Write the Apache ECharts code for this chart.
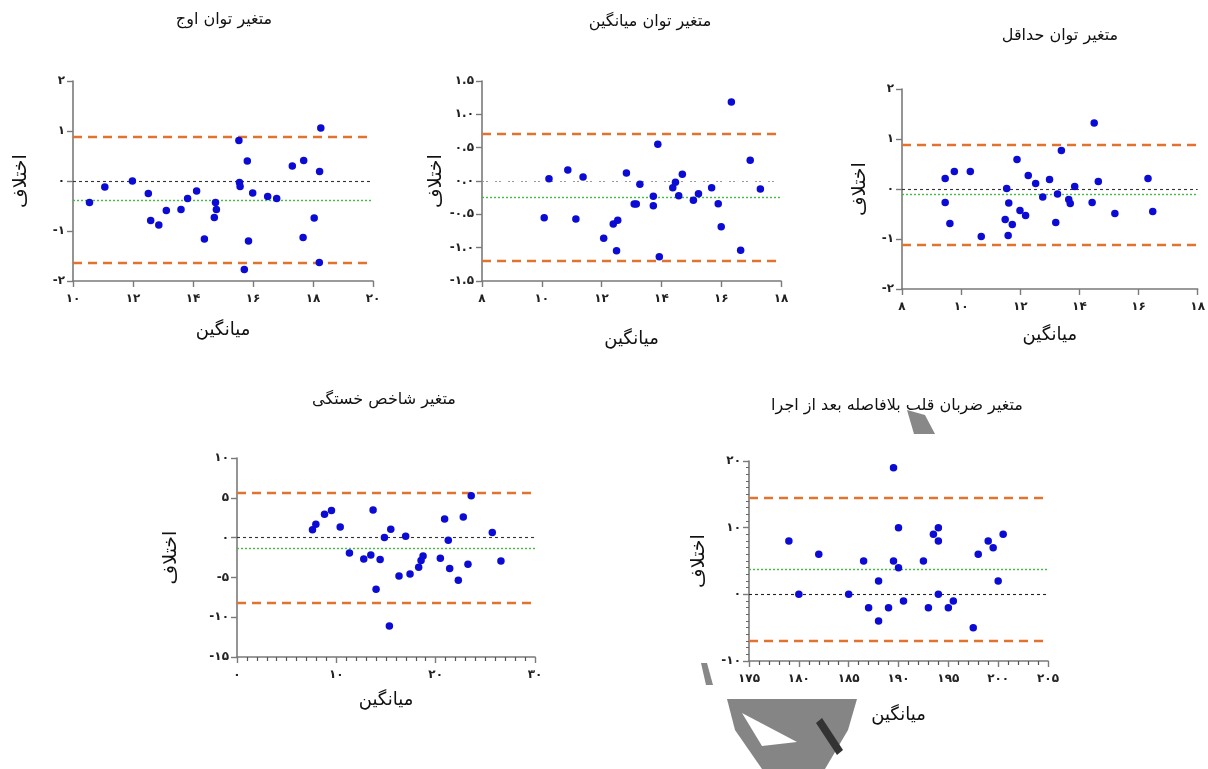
<!DOCTYPE html>
<html>
<head>
<meta charset="utf-8">
<script src="https://cdn.jsdelivr.net/npm/echarts@6/dist/echarts.min.js"></script>
<style>
html,body{margin:0;padding:0;background:#fff;}
#chart{width:1208px;height:769px;}
</style>
</head>
<body>
<div id="chart"></div>
<script>
// ---------- DATA ----------
const titles = ['متغیر توان اوج', 'متغیر توان میانگین', 'متغیر توان حداقل', 'متغیر شاخص خستگی', 'متغیر ضربان قلب بلافاصله بعد از اجرا'];
const xName = 'میانگین';
const yName = 'اختلاف';

// Panel 1: peak power
const peakMean = [10.55, 11.06, 11.98, 12.51, 12.59, 12.86, 13.11, 13.60, 13.82, 14.12, 14.38, 14.71, 14.75, 14.78, 15.53, 15.55, 15.57, 15.71, 15.81, 15.85, 15.99, 16.49, 16.79, 17.31, 17.69, 17.67, 18.04, 18.21, 18.22, 18.26];
const peakDiff = [-0.43, -0.12, 0.00, -0.25, -0.79, -0.88, -0.59, -0.57, -0.35, -0.20, -1.16, -0.73, -0.43, -0.57, 0.81, -0.03, -0.11, -1.77, 0.40, -1.20, -0.24, -0.31, -0.35, 0.30, 0.41, -1.13, -0.74, -1.63, 0.19, 1.06];
const peakLimits = [0.89, -0.38, -1.64]; // upper, bias, lower

// Panel 2: mean power
const avgMean = [10.08, 10.24, 10.87, 11.14, 11.38, 12.07, 12.39, 12.50, 12.54, 12.83, 13.09, 13.16, 13.28, 13.73, 13.73, 13.88, 13.93, 14.38, 14.47, 14.58, 14.70, 15.07, 15.24, 15.68, 15.90, 16.00, 16.34, 16.65, 16.97, 17.31];
const avgDiff = [-0.55, 0.035, 0.165, -0.57, 0.06, -0.86, -0.645, -1.045, -0.59, 0.12, -0.345, -0.345, -0.05, -0.23, -0.37, 0.55, -1.135, -0.10, -0.02, -0.22, 0.10, -0.29, -0.19, -0.10, -0.34, -0.685, 1.185, -1.04, 0.31, -0.12];
const avgLimits = [0.715, -0.24, -1.20];

// Panel 3: minimum power
const minMean = [9.46, 9.46, 9.62, 9.77, 10.31, 10.68, 11.49, 11.54, 11.59, 11.61, 11.73, 11.89, 11.99, 12.18, 12.27, 12.52, 12.76, 12.99, 13.20, 13.26, 13.39, 13.64, 13.69, 13.84, 14.43, 14.50, 14.64, 15.20, 16.32, 16.48];
const minDiff = [0.21, -0.27, -0.69, 0.35, 0.35, -0.95, -0.61, 0.01, -0.93, -0.28, -0.71, 0.59, -0.43, -0.53, 0.27, 0.11, -0.16, 0.19, -0.67, -0.10, 0.77, -0.21, -0.29, 0.05, -0.27, 1.32, 0.15, -0.49, 0.21, -0.45];
const minLimits = [0.887, -0.11, -1.11];

// Panel 4: fatigue index
const fatMean = [7.60, 7.94, 8.81, 9.51, 10.39, 11.32, 12.76, 13.47, 13.70, 14.00, 14.41, 14.84, 15.34, 15.48, 16.31, 16.98, 17.42, 18.29, 18.53, 18.73, 20.47, 20.90, 21.27, 21.41, 22.28, 22.78, 23.25, 23.58, 25.70, 26.57];
const fatDiff = [1.00, 1.67, 2.93, 3.39, 1.34, -1.92, -2.68, -2.18, 3.47, -6.49, -2.76, 0.00, -11.09, 1.05, -4.81, 0.17, -4.56, -3.72, -2.89, -2.30, -2.59, 2.34, -0.33, -3.89, -5.36, 2.59, -3.35, 5.27, 0.63, -2.93];
const fatLimits = [5.69, -1.30, -8.16];

// Panel 5: heart rate immediately after exercise
const hrMean = [179, 180, 182, 185, 186.5, 187, 188, 188, 189, 189.5, 189.5, 190, 190, 190.5, 192.5, 193, 193.5, 194, 194, 194, 195, 195.5, 197.5, 198, 199, 199.5, 200, 200.5];
const hrDiff = [8, 0, 6, 0, 5, -2, 2, -4, -2, 19, 5, 10, 4, -1, 5, -2, 9, 10, 8, 0, -2, -1, -5, 6, 8, 7, 2, 9];
const hrLimits = [14.45, 3.7, -7.0];

// Axis ranges [min, max, interval]
const xRanges = [[10, 20, 2], [8, 18, 2], [8, 18, 2], [0, 30, 10], [175, 205, 5]];
const yRanges = [[-2, 2, 1], [-1.5, 1.5, 0.5], [-2, 2, 1], [-15, 10, 5], [-10, 20, 10]];
const yDecimals = [0, 1, 0, 0, 0];

// ---------- LAYOUT / STYLE ----------
const grids = [
  {left: 73, top: 81, width: 300, height: 200},
  {left: 482, top: 81, width: 299, height: 200},
  {left: 902, top: 89, width: 300, height: 200},
  {left: 237, top: 458, width: 298, height: 199},
  {left: 749, top: 461, width: 299, height: 200}
];
const titlePos = [[224, 20], [650, 22], [1060, 36], [384, 400], [897, 406]];
const xNameGap = [40, 49, 37, 34, 45];
const yNameGap = [42, 36, 32, 56, 40];
const xMinor = [0, 0, 0, 10, 5];
const yMinor = [0, 0, 0, 0, 10];
const zeroStyle = [
  {color: '#333', type: [3, 3], width: 1.1},
  {color: '#9a9a9a', type: [2, 2, 2, 7], width: 1.1},
  {color: '#333', type: [3, 3], width: 1.1},
  {color: '#333', type: [3, 3], width: 1.1},
  {color: '#222', type: [3, 3], width: 1.1}
];

const faDigits = '۰۱۲۳۴۵۶۷۸۹';
function toFa(s) { return String(s).replace(/[0-9]/g, d => faDigits[+d]); }

const datasets = [
  [peakMean, peakDiff, peakLimits],
  [avgMean, avgDiff, avgLimits],
  [minMean, minDiff, minLimits],
  [fatMean, fatDiff, fatLimits],
  [hrMean, hrDiff, hrLimits]
];

const axisColor = '#7a7a7a';
const FONT = 'DejaVu Sans';

const xAxes = [], yAxes = [], series = [];
datasets.forEach((d, i) => {
  const [xmin, xmax, xint] = xRanges[i];
  const [ymin, ymax, yint] = yRanges[i];
  xAxes.push({
    gridIndex: i, type: 'value', min: xmin, max: xmax, interval: xint,
    name: xName, nameLocation: 'middle', nameGap: xNameGap[i],
    nameTextStyle: {fontFamily: FONT, fontSize: 18, color: '#111'},
    axisLine: {show: true, onZero: false, lineStyle: {color: axisColor, width: 1.6}},
    axisTick: {show: true, length: 6, lineStyle: {color: axisColor, width: 1.4}},
    minorTick: {show: xMinor[i] > 0, splitNumber: xMinor[i] || 5, length: 4, lineStyle: {color: '#555', width: 1.2}},
    splitLine: {show: false},
    axisLabel: {fontFamily: FONT, fontSize: 12, fontWeight: 'bold', color: '#222', margin: 12,
      formatter: v => toFa(v)}
  });
  yAxes.push({
    gridIndex: i, type: 'value', min: ymin, max: ymax, interval: yint,
    name: yName, nameLocation: 'middle', nameGap: yNameGap[i], nameRotate: 90,
    nameTextStyle: {fontFamily: FONT, fontSize: 19, color: '#111'},
    axisLine: {show: true, onZero: false, lineStyle: {color: axisColor, width: 1.6}},
    axisTick: {show: true, length: 6, lineStyle: {color: axisColor, width: 1.4}},
    minorTick: {show: yMinor[i] > 0, splitNumber: yMinor[i] || 5, length: 3, lineStyle: {color: '#666', width: 1}},
    splitLine: {show: false},
    axisLabel: {fontFamily: FONT, fontSize: 12, fontWeight: 'bold', color: '#222', margin: 8,
      formatter: v => toFa(v.toFixed(yDecimals[i]))}
  });
  const pts = d[0].map((x, k) => [x, d[1][k]]);
  const lim = d[2];
  series.push({
    type: 'scatter', xAxisIndex: i, yAxisIndex: i, data: [], z: 1, silent: true,
    markLine: {
      silent: true, symbol: ['none', 'none'], label: {show: false}, animation: false,
      data: [
        {yAxis: lim[0], lineStyle: {color: '#e0732f', type: [9, 6], width: 2.4}},
        {yAxis: lim[2], lineStyle: {color: '#e0732f', type: [9, 6], width: 2.4}},
        {yAxis: lim[1], lineStyle: {color: '#3fbf3f', type: [2, 2], width: 1.4}},
        {yAxis: 0, lineStyle: zeroStyle[i]}
      ]
    }
  });
  series.push({
    type: 'scatter', xAxisIndex: i, yAxisIndex: i, data: pts, z: 5,
    symbolSize: 7.5, itemStyle: {color: '#0b0bd4', opacity: 1}
  });
});

const graphics = titles.map((t, i) => ({
  type: 'text', x: titlePos[i][0], y: titlePos[i][1], z: 10,
  style: {text: t, fontFamily: FONT, fontSize: 16, fill: '#111', align: 'center', verticalAlign: 'middle'}
}));

// watermark fragments
graphics.push(
  {type: 'polygon', z: 20, shape: {points: [[907, 410], [925, 415], [935, 434], [914, 434]]}, style: {fill: '#888'}},
  {type: 'polygon', z: 20, shape: {points: [[701, 663], [707, 663], [713, 685], [706, 685]]}, style: {fill: '#888'}},
  {type: 'polygon', z: 20, shape: {points: [[727, 699], [857, 699], [848, 730], [825, 769], [762, 769], [735, 730]]}, style: {fill: '#858585'}},
  {type: 'polygon', z: 21, shape: {points: [[742, 713], [797, 742], [762, 746]]}, style: {fill: '#ffffff'}},
  {type: 'polygon', z: 21, shape: {points: [[816, 723], [822, 718], [843, 750], [837, 755]]}, style: {fill: '#333'}}
);

const chart = echarts.init(document.getElementById('chart'), null, {renderer: 'canvas'});
chart.setOption({
  animation: false,
  backgroundColor: '#ffffff',
  grid: grids.map(g => Object.assign({containLabel: false}, g)),
  xAxis: xAxes,
  yAxis: yAxes,
  series: series,
  graphic: graphics
});
</script>
</body>
</html>
